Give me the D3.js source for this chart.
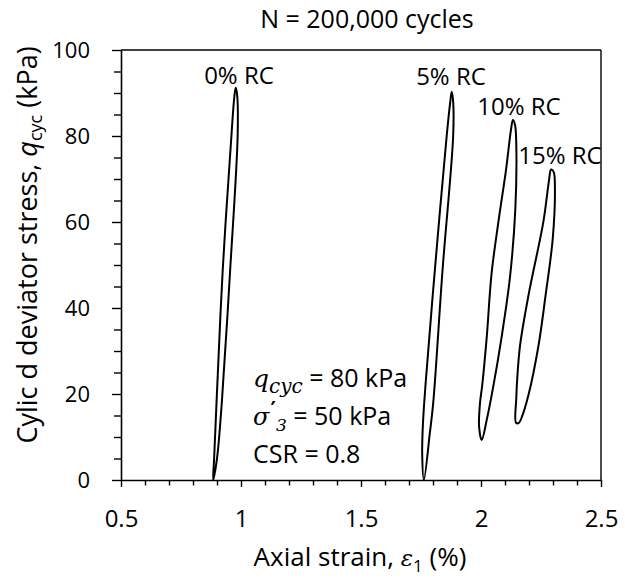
<!DOCTYPE html>
<html><head><meta charset="utf-8">
<script src="https://cdn.jsdelivr.net/npm/d3@7"></script>
<style>html,body{margin:0;padding:0;background:#fff;} svg{display:block;}</style>
</head><body><svg id="c" width="625" height="583"></svg>
<script>
// ---------------- data ----------------
const chartTitle = "N = 200,000 cycles";
const xTickValues = [0.5, 1, 1.5, 2, 2.5];
const xTickLabels = ["0.5", "1", "1.5", "2", "2.5"];
const xMinorTicks = [0.6, 0.7, 0.8, 0.9, 1.1, 1.2, 1.3, 1.4, 1.6, 1.7, 1.8, 1.9, 2.1, 2.2, 2.3, 2.4];
const yTickValues = [0, 20, 40, 60, 80, 100];
const yTickLabels = ["0", "20", "40", "60", "80", "100"];
const yMinorTicks = [5, 10, 15, 25, 30, 35, 45, 50, 55, 65, 70, 75, 85, 90, 95];
const loopNames = ["0% RC", "5% RC", "10% RC", "15% RC"];
// hysteresis loops: [axial strain (%), cyclic deviator stress (kPa)]
const loop0 = [[0.884,0],[0.888,5],[0.898,18],[0.924,49],[0.960,80],[0.972,89],[0.978,91.2],[0.984,89.5],[0.986,80],[0.955,49],[0.920,18],[0.900,5]];
const loop5 = [[1.762,0],[1.755,6],[1.758,13],[1.770,23],[1.808,49],[1.857,80],[1.872,88],[1.878,90.3],[1.884,88],[1.884,80],[1.840,49],[1.801,18],[1.787,11]];
const loop10 = [[2.003,9.3],[1.992,12.4],[1.996,18],[2.005,22],[2.024,33.3],[2.044,48],[2.075,61],[2.104,72],[2.125,81.5],[2.133,83.7],[2.142,82.5],[2.147,78],[2.143,63],[2.121,47.3],[2.086,33.3],[2.051,21.7],[2.024,14.0]];
const loop15 = [[2.146,13.3],[2.147,19],[2.151,23.6],[2.163,31.4],[2.198,43.0],[2.260,60.1],[2.283,69.5],[2.292,72.2],[2.303,71.6],[2.308,67.8],[2.299,56.2],[2.268,42.5],[2.240,31.4],[2.198,19.8],[2.170,14.6],[2.158,13.3]];
const loops = [loop0, loop5, loop10, loop15];
const annotationLines = ["q", "cyc", " = 80 kPa", "σ", "′", "3", " = 50 kPa", "CSR = 0.8"];

// ---------------- layout ----------------
const svg = d3.select("#c");
const font = "'Open Sans', 'Noto Sans', sans-serif";
const x = d3.scaleLinear().domain([0.5, 2.5]).range([121, 601]);
const y = d3.scaleLinear().domain([0, 100]).range([480, 50]);

// plot box (top & right)
svg.append("line").attr("x1", x(0.5)).attr("x2", x(2.5)).attr("y1", y(100)).attr("y2", y(100))
  .attr("stroke", "#000").attr("stroke-width", 1.4);
svg.append("line").attr("x1", x(2.5)).attr("x2", x(2.5)).attr("y1", y(100)).attr("y2", y(0))
  .attr("stroke", "#000").attr("stroke-width", 1.4);

// minor ticks
svg.append("g").attr("transform", `translate(0,${y(0)})`)
  .call(d3.axisBottom(x).tickValues(xMinorTicks).tickSize(5.5).tickFormat(""))
  .call(g => g.select(".domain").remove())
  .call(g => g.selectAll("line").attr("stroke", "#000").attr("stroke-width", 1.4));
svg.append("g").attr("transform", `translate(${x(0.5)},0)`)
  .call(d3.axisLeft(y).tickValues(yMinorTicks).tickSize(7).tickFormat(""))
  .call(g => g.select(".domain").remove())
  .call(g => g.selectAll("line").attr("stroke", "#000").attr("stroke-width", 1.4));

// major axes
const xAxis = svg.append("g").attr("transform", `translate(0,${y(0)})`)
  .call(d3.axisBottom(x).tickValues(xTickValues).tickSize(7).tickSizeOuter(0)
    .tickFormat((d, i) => xTickLabels[i]));
xAxis.select(".domain").attr("stroke", "#000").attr("stroke-width", 1.6);
xAxis.selectAll("line").attr("stroke", "#000").attr("stroke-width", 1.4);
xAxis.selectAll("text").attr("y", 47).attr("dy", "0").attr("font-family", font)
  .attr("font-size", 24).attr("fill", "#000");

const yAxis = svg.append("g").attr("transform", `translate(${x(0.5)},0)`)
  .call(d3.axisLeft(y).tickValues(yTickValues).tickSize(9).tickSizeOuter(0)
    .tickFormat((d, i) => yTickLabels[i]));
yAxis.select(".domain").attr("stroke", "#000").attr("stroke-width", 1.6);
yAxis.selectAll("line").attr("stroke", "#000").attr("stroke-width", 1.4);
yAxis.selectAll("text").attr("x", -31).attr("dy", "0.36em").attr("font-family", font)
  .attr("font-size", 22).attr("fill", "#000");

// loops
const line = d3.line().x(d => x(d[0])).y(d => y(d[1])).curve(d3.curveCatmullRomClosed.alpha(0.5));
svg.append("g").selectAll("path").data(loops).join("path")
  .attr("d", line).attr("fill", "none").attr("stroke", "#000").attr("stroke-width", 2);

// loop labels
const labelPos = [[239, 84], [451, 85], [519, 115], [560, 164]];
svg.append("g").selectAll("text").data(loopNames).join("text")
  .attr("x", (d, i) => labelPos[i][0]).attr("y", (d, i) => labelPos[i][1])
  .attr("text-anchor", "middle").attr("font-family", font).attr("font-size", 24).attr("fill", "#000")
  .text(d => d);

// title
svg.append("text").attr("x", 367).attr("y", 28).attr("text-anchor", "middle")
  .attr("font-family", font).attr("font-size", 25).attr("fill", "#000").text(chartTitle);

// x axis title
const xt = svg.append("text").attr("x", 360).attr("y", 566).attr("text-anchor", "middle")
  .attr("font-family", font).attr("font-size", 26).attr("fill", "#000");
xt.append("tspan").text("Axial strain, ");
xt.append("tspan").attr("font-style", "italic").attr("font-family", "'DejaVu Serif', serif").attr("font-size", 23).text("ε");
xt.append("tspan").attr("font-size", 17).attr("dy", 6).text("1");
xt.append("tspan").attr("dy", -6).text(" (%)");

// y axis title
const yt = svg.append("text").attr("transform", "translate(37,245) rotate(-90)").attr("text-anchor", "middle")
  .attr("font-family", font).attr("font-size", 27).attr("fill", "#000");
yt.append("tspan").text("Cylic d deviator stress, ");
yt.append("tspan").attr("font-style", "italic").text("q");
yt.append("tspan").attr("font-size", 18).attr("dy", 5).text("cyc");
yt.append("tspan").attr("dy", -5).text(" (kPa)");

// annotation block
const mathFont = "'DejaVu Serif', serif";
const a1 = svg.append("text").attr("x", 253).attr("y", 387).attr("font-family", font).attr("font-size", 25).attr("fill", "#000");
a1.append("tspan").attr("font-family", mathFont).attr("font-style", "italic").attr("font-size", 25).text(annotationLines[0]);
a1.append("tspan").attr("font-family", mathFont).attr("font-style", "italic").attr("font-size", 20).attr("dy", 6).text(annotationLines[1]);
a1.append("tspan").attr("dy", -6).text(annotationLines[2]);

const a2 = svg.append("text").attr("x", 253).attr("y", 425).attr("font-family", font).attr("font-size", 25).attr("fill", "#000");
a2.append("tspan").attr("font-family", mathFont).attr("font-style", "italic").attr("font-size", 24).text(annotationLines[3]);
a2.append("tspan").attr("font-family", "'DejaVu Sans', sans-serif").attr("font-size", 21).attr("font-weight", "bold").attr("dx", 1).attr("dy", -8).text(annotationLines[4]);
a2.append("tspan").attr("font-family", mathFont).attr("font-style", "italic").attr("font-size", 17).attr("dx", 0).attr("dy", 14).text(annotationLines[5]);
a2.append("tspan").attr("dy", -6).text(annotationLines[6]);

svg.append("text").attr("x", 253).attr("y", 463).attr("font-family", font).attr("font-size", 25).attr("fill", "#000")
  .text(annotationLines[7]);
</script></body></html>
